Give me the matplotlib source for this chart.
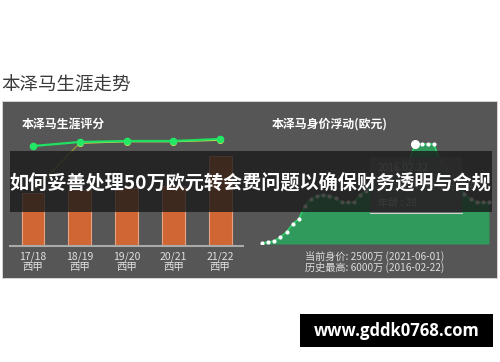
import matplotlib
matplotlib.use('Agg')
import matplotlib.pyplot as plt
from matplotlib.patches import Rectangle
import numpy as np

plt.rcParams['font.family'] = ['Noto Sans CJK SC', 'DejaVu Sans']

# 左图: 生涯评分
seasons = ['17/18\n西甲', '18/19\n西甲', '19/20\n西甲', '20/21\n西甲', '21/22\n西甲']
bar_values = [53, 56, 58, 60, 90]
green_scores = [100, 104, 105, 105, 107]
yellow_scores = [55, 103, 104.5, 104.5, 106]

# 右图: 身价浮动 (百万欧元)
market_values = [0.6, 1.2, 1.8, 4.2, 7.2, 12, 15, 23, 27, 29, 29.5, 29, 27.5, 25, 25, 25,
                 29.5, 32, 35, 35, 40, 40, 45, 50, 50, 60, 60, 60, 60, 50, 45, 40, 35,
                 30, 27, 25, 25, 25]
peak_index = 25

W, H = 500, 362
fig = plt.figure(figsize=(W / 100, H / 100), dpi=100, facecolor='white')


def px_axes(x0, y0, x1, y1, z):
    ax = fig.add_axes([x0 / W, 1 - y1 / H, (x1 - x0) / W, (y1 - y0) / H], zorder=z)
    return ax


# 背景层 (像素坐标)
bg = px_axes(0, 0, W, H, 0)
bg.set_xlim(0, W)
bg.set_ylim(H, 0)
bg.axis('off')
bg.text(1, 85, '本泽马生涯走势', fontsize=13.3, color='#3a3a3a', va='center', ha='left')
bg.add_patch(Rectangle((2, 101), 495, 177, fc='#565656', ec='#dddddd', lw=0.6))
bg.text(22, 124, '本泽马生涯评分', fontsize=8.6, color='white', fontweight='bold', va='center')
bg.text(272, 124, '本泽马身价浮动(欧元)', fontsize=8.6, color='white', fontweight='bold', va='center')
bg.text(375, 256, '当前身价: 2500万 (2021-06-01)', fontsize=7.3, color='#dddddd', ha='center', va='center')
bg.text(375, 267.5, '历史最高: 6000万 (2016-02-22)', fontsize=7.3, color='#dddddd', ha='center', va='center')

# 左图
ax1 = px_axes(10, 126, 243, 246, 1)
ax1.patch.set_alpha(0)
x = np.arange(len(seasons))
ax1.bar(x, bar_values, width=0.49, color='#cf6633', edgecolor='#e6a283', linewidth=0.8, zorder=2)
# 黄线第一段较暗较细
ax1.plot(x[:2], yellow_scores[:2], color='#9a9436', lw=0.9, zorder=3)
ax1.plot(x[1:], yellow_scores[1:], color='#e8e04a', lw=1.2, marker='o', ms=4, mfc='#f0e850', mec='#f0e850', zorder=3)
ax1.plot(x, green_scores, color='#1fe060', lw=1.6, marker='o', ms=4.5, mfc='#22e866', mec='#22e866', zorder=4)
ax1.set_xlim(-0.492, 4.49)
ax1.set_ylim(0, 120)
for s in ['top', 'right', 'left']:
    ax1.spines[s].set_visible(False)
ax1.spines['bottom'].set_color('#aaaaaa')
ax1.spines['bottom'].set_linewidth(1.5)
ax1.set_yticks([])
ax1.set_xticks(x, seasons)
ax1.tick_params(axis='x', length=0, pad=4, labelsize=7.5, labelcolor='#e0e0e0')
for lab in ax1.get_xticklabels():
    lab.set_linespacing(1.05)

# 右图
ax2 = px_axes(255, 134, 495, 244, 1)
ax2.patch.set_alpha(0)
xi = np.arange(len(market_values))
ax2.fill_between(xi, market_values, 0, color='#2f9a5c', lw=0, zorder=1)
ax2.plot(xi, market_values, color='#2bd46a', lw=1.2, zorder=2)
ax2.plot(xi, market_values, 'o', ms=3, color='white', mec='none', zorder=3)
ax2.plot(xi[peak_index], market_values[peak_index], 'o', ms=6.5, color='white', mec='none', zorder=4)
ax2.set_xlim(-1.14, 37.98)
ax2.set_ylim(0, 66)
ax2.axis('off')

# 顶层: 提示框, 遮罩横条, 水印
top = px_axes(0, 0, W, H, 2)
top.patch.set_alpha(0)
top.set_xlim(0, W)
top.set_ylim(H, 0)
top.axis('off')
top.add_patch(Rectangle((370, 157), 92, 56, fc='#6c6c6c', ec='none', alpha=0.92))
top.plot([370, 462], [212.5, 212.5], color='#cfcfcf', lw=0.8)
top.text(378, 168, '2016.02.22', fontsize=7.3, color='#3a3a3a', va='center')
top.text(378, 186, '效力球队 : 皇家马德里', fontsize=7.3, color='#3a3a3a', va='center')
top.text(378, 203, '年龄 : 28', fontsize=7.3, color='#3a3a3a', va='center')

top.add_patch(Rectangle((10, 151), 482, 61, fc='#1a1a1a', ec='none', alpha=0.8))
top.text(250, 184, '如何妥善处理50万欧元转会费问题以确保财务透明与合规', fontsize=13.8,
         color='white', fontweight='bold', ha='center', va='center')

top.add_patch(Rectangle((300, 314), 193, 33, fc='black', ec='none'))
top.text(396.5, 331, 'www.gddk0768.com', fontsize=12, color='white', fontweight='bold',
         ha='center', va='center', family=['Open Sans', 'DejaVu Sans'])

fig.savefig('out.png', dpi=100, facecolor='white')
